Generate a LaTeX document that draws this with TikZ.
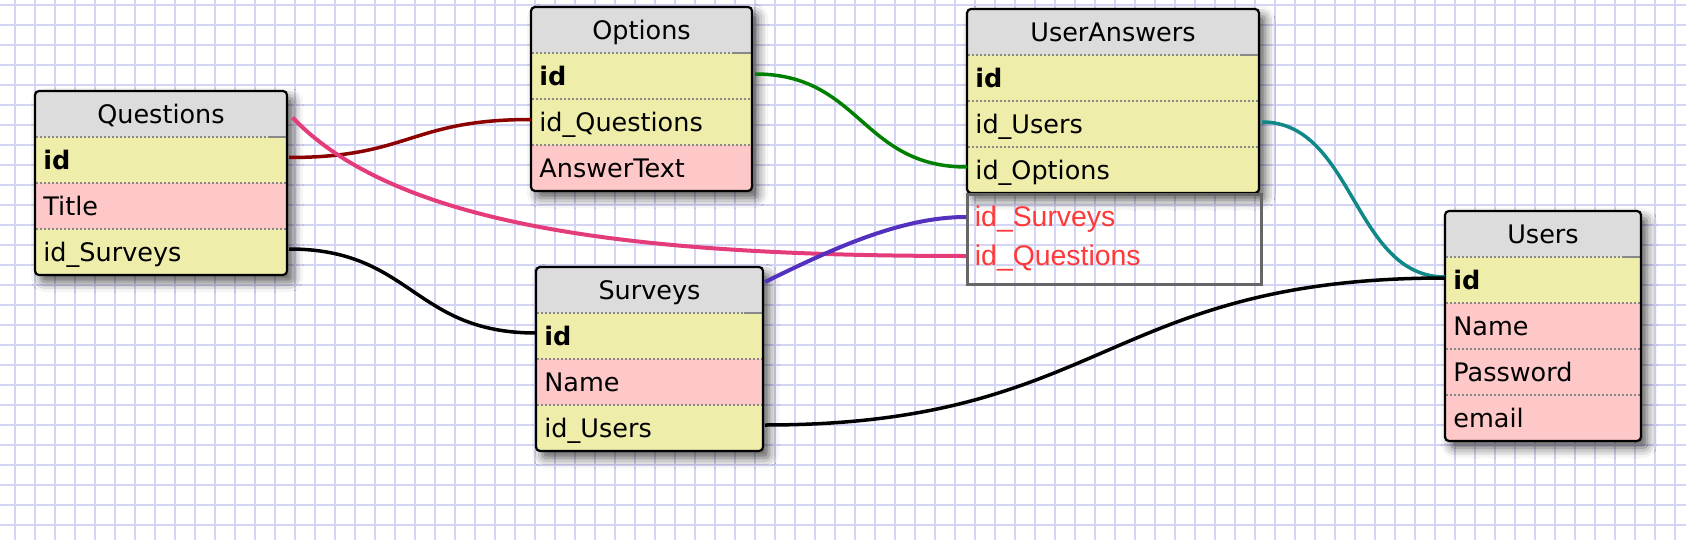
\documentclass[tikz,border=0pt]{standalone}
\usepackage{fontspec}
\setmainfont{DejaVu Sans}
\newfontfamily\redfont{Liberation Sans}
\usetikzlibrary{calc,shadows.blur}

\definecolor{gridc}{RGB}{212,212,244}
\definecolor{headc}{RGB}{220,220,220}
\definecolor{yelc}{RGB}{238,238,170}
\definecolor{pinkc}{RGB}{255,200,200}
\definecolor{sepc}{RGB}{136,136,136}
\definecolor{redtxt}{RGB}{255,56,56}
\definecolor{relred}{RGB}{140,0,0}
\definecolor{relpink}{RGB}{228,60,122}
\definecolor{relgreen}{RGB}{0,128,0}
\definecolor{relpurple}{RGB}{84,48,190}
\definecolor{relteal}{RGB}{16,136,136}
\definecolor{boxgray}{RGB}{102,102,102}

\tikzset{
  gridline/.style={draw=gridc, line width=1.1pt},
  tframe/.style={rectangle, rounded corners=2pt, fill=headc, inner sep=0pt, outer sep=0pt,
    anchor=north west,
    blur shadow={shadow xshift=3pt, shadow yshift=-3.5pt, shadow blur radius=5pt, shadow opacity=65}},
  trow/.style={rectangle, inner sep=0pt, outer sep=0pt, anchor=north west, minimum height=23pt},
  ttext/.style={anchor=base west, inner sep=0pt, font=\fontsize{12.75}{15}\selectfont},
  thead/.style={anchor=base, inner sep=0pt, font=\fontsize{12.75}{15}\selectfont},
  tsep/.style={draw=sepc, line width=1pt, dash pattern=on 1pt off 1pt},
  tsepsolid/.style={draw=sepc, line width=1pt},
  tborder/.style={draw=black, line width=1.1pt, rounded corners=2pt},
  redtext/.style={anchor=base west, inner sep=0pt, text=redtxt, font=\redfont\fontsize{14.2}{16}\selectfont},
  xbox/.style={draw=boxgray, line width=1.3pt, inner sep=0pt, anchor=north west},
  rel/.style={line width=1.75pt},
}

% #1 name, #2 x, #3 y, #4 width(px), #5 number of rows, #6 title, #7 rows name/fill/text
\newcommand\dbtable[7]{%
  \pgfmathsetmacro\tabh{46*(#5+1)}%
  \node[tframe, minimum width=#4*0.5pt, minimum height=\tabh*0.5pt] (#1) at (#2,#3) {};
  \node[thead] (#1-title) at (#2+#4/2,#3+32.5) {#6};
  \foreach \rn/\rf/\rt [count=\i] in {#7} {
    \pgfmathsetmacro\ry{#3+46*\i}
    \node[trow, fill=\rf, minimum width=#4*0.5pt] (#1-\rn) at (#2,\ry) {};
    \node[ttext] (#1-\rn-t) at (#2+8,\ry+32.5) {\rt};
    \draw[tsep] (#2+1,\ry) -- (#2+#4-1,\ry);
  }
  \draw[tsepsolid] (#2+#4-19,#3+46) -- (#2+#4-1,#3+46);
  \draw[tborder] (#1.north west) rectangle (#1.south east);
}

\begin{document}
\begin{tikzpicture}[x=0.5pt,y=-0.5pt]
\useasboundingbox (0,0) rectangle (1686,540);
% grid
\foreach \gx in {15,35,...,1675} \draw[gridline] (\gx,0) -- (\gx,540);
\foreach \gy in {5,25,...,525} \draw[gridline] (0,\gy) -- (1686,\gy);

% tables
\dbtable{Q}{35}{91}{252}{3}{Questions}{id/yelc/\textbf{id}, ti/pinkc/Title, s/yelc/id\_Surveys}
\dbtable{O}{531}{7}{221}{3}{Options}{id/yelc/\textbf{id}, q/yelc/id\_Questions, at/pinkc/AnswerText}
\dbtable{UA}{967}{9}{292}{3}{UserAnswers}{id/yelc/\textbf{id}, u/yelc/id\_Users, o/yelc/id\_Options}
\dbtable{S}{536}{267}{227}{3}{Surveys}{id/yelc/\textbf{id}, n/pinkc/Name, u/yelc/id\_Users}
\dbtable{Us}{1445}{211}{196}{4}{Users}{id/yelc/\textbf{id}, n/pinkc/Name, p/pinkc/Password, e/pinkc/email}

% extra fields box
\node[xbox, minimum width=294*0.5pt, minimum height=90*0.5pt] (UA-x) at (966,193) {};
\node[redtext] (UA-xs) at (974.5,226) {id\_Surveys};
\node[redtext] (UA-xq) at (974.5,265) {id\_Questions};

% relations
\draw[rel, relred] ($(Q-id.east)+(2,-2.5)$) .. controls +(121,0) and +(-121,0) .. ($(O-q.west)+(0,-2.5)$);
\draw[rel, relpink, line width=2pt] ($(Q.north east)+(5.5,26.5)$) .. controls +(108,113) and +(-316,0) .. ($(UA-x.north west)+(0,63)$);
\draw[rel, relgreen] ($(O-id.east)+(3,-2)$) .. controls +(106,0) and +(-106,0) .. ($(UA-o.west)+(0,-3)$);
\draw[rel, black] ($(Q-s.east)+(2,-3)$) .. controls +(123,0) and +(-123,0) .. ($(S-id.west)+(0,-3)$);
\draw[rel, relpurple, line width=2pt] ($(S.north east)+(2,15)$) .. controls +(65,-32) and +(-66,0) .. ($(UA-x.north west)+(0,24)$);
\draw[rel, relteal] ($(UA-u.east)+(3,-2)$) .. controls +(92,0) and +(-92,0) .. ($(Us-id.west)+(0,-3)$);
\draw[rel, black] ($(S-u.east)+(2,-3)$) .. controls +(340,0) and +(-340,0) .. ($(Us-id.west)+(0,-2)$);
\end{tikzpicture}
\end{document}
